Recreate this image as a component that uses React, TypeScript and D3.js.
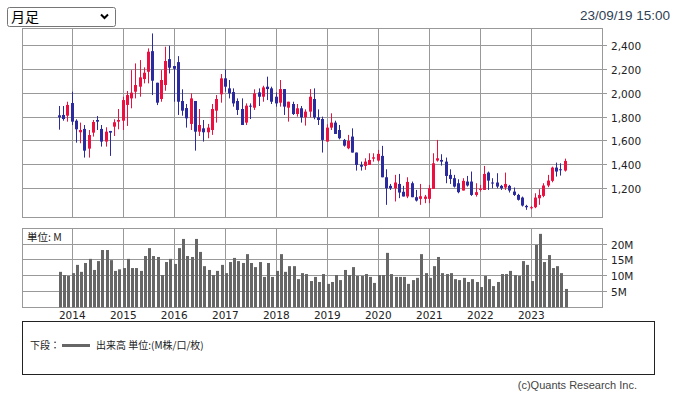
import React, { useEffect, useRef } from 'react'
import * as d3 from 'd3'

// monthly candles, first one is Oct 2013
const firstMonth = new Date(2013, 9, 1)
const candleCount = 120

const opens = [
  1814, 1817, 1811, 1917, 1769, 1672, 1700, 1535, 1669, 1775, 1700, 1594, 1683, 1719, 1761, 1769, 1901, 1956, 2012, 2054,
  2118, 2179, 2352, 2087, 1951, 2068, 2285, 2227, 2260, 1934, 1875, 1742, 1934, 1677, 1705, 1672, 1691, 1853, 1990, 2124,
  2040, 2009, 1934, 1867, 1753, 1895, 1878, 2006, 1970, 2054, 2040, 1970, 1920, 2034, 1878, 1909, 1825, 1873, 1797, 1845,
  1951, 1797, 1783, 1594, 1711, 1753, 1691, 1608, 1538, 1636, 1502, 1398, 1390, 1398, 1451, 1435, 1474, 1295, 1223, 1203,
  1239, 1173, 1134, 1245, 1128, 1114, 1114, 1114, 1198, 1435, 1440, 1426, 1315, 1287, 1245, 1184, 1259, 1259, 1147, 1189,
  1189, 1334, 1251, 1251, 1223, 1209, 1223, 1175, 1147, 1125, 1055, 1036, 1044, 1119, 1139, 1226, 1265, 1376, 1362, 1351,
]
const highs = [
  1892, 1892, 1928, 2012, 1781, 1753, 1733, 1691, 1775, 1808, 1733, 1714, 1683, 1781, 1867, 1970, 2018, 2193, 2249, 2277,
  2216, 2375, 2500, 2087, 2193, 2389, 2397, 2227, 2310, 2032, 1909, 1998, 1934, 1867, 1775, 1742, 1909, 1984, 2160, 2199,
  2110, 2040, 1956, 1956, 1914, 1914, 2032, 2040, 2062, 2138, 2054, 2006, 2110, 2034, 1928, 1928, 1909, 1892, 1864, 2034,
  2040, 1864, 1803, 1739, 1831, 1769, 1733, 1616, 1650, 1705, 1502, 1426, 1454, 1496, 1496, 1524, 1558, 1362, 1239, 1315,
  1323, 1223, 1295, 1259, 1189, 1239, 1147, 1231, 1496, 1608, 1488, 1460, 1362, 1315, 1278, 1287, 1306, 1343, 1245, 1231,
  1390, 1343, 1287, 1329, 1231, 1334, 1231, 1209, 1156, 1133, 1064, 1055, 1161, 1195, 1245, 1315, 1384, 1418, 1412, 1451,
]
const lows = [
  1694, 1769, 1761, 1733, 1585, 1580, 1460, 1460, 1636, 1691, 1552, 1552, 1474, 1641, 1697, 1691, 1725, 1873, 1956, 1970,
  2082, 2082, 1984, 1900, 1928, 2020, 2165, 1928, 1817, 1811, 1711, 1691, 1518, 1641, 1594, 1622, 1650, 1753, 1920, 2012,
  1956, 1887, 1817, 1733, 1733, 1783, 1859, 1892, 1928, 1942, 1909, 1887, 1887, 1817, 1761, 1817, 1803, 1753, 1728, 1797,
  1781, 1733, 1502, 1594, 1691, 1658, 1613, 1552, 1530, 1502, 1351, 1351, 1357, 1398, 1426, 1426, 1295, 1064, 1189, 1092,
  1120, 1134, 1120, 1128, 1092, 1064, 1078, 1078, 1198, 1426, 1393, 1245, 1239, 1209, 1161, 1184, 1217, 1139, 1133, 1175,
  1189, 1189, 1203, 1203, 1189, 1189, 1167, 1139, 1100, 1050, 1022, 1027, 1036, 1064, 1128, 1212, 1253, 1301, 1309, 1343,
]
const closes = [
  1797, 1783, 1901, 1761, 1697, 1691, 1518, 1649, 1758, 1761, 1594, 1677, 1669, 1756, 1775, 1942, 1984, 2004, 2068, 2132,
  2171, 2347, 2104, 1920, 2110, 2269, 2213, 2204, 1928, 1853, 1789, 1956, 1677, 1733, 1672, 1711, 1867, 1951, 2124, 2054,
  1998, 1914, 1859, 1733, 1895, 1887, 1998, 1970, 2048, 2034, 1928, 1914, 2034, 1887, 1928, 1825, 1873, 1797, 1845, 1970,
  1797, 1775, 1608, 1711, 1753, 1658, 1622, 1560, 1599, 1502, 1398, 1384, 1426, 1440, 1462, 1491, 1295, 1203, 1203, 1251,
  1167, 1134, 1256, 1128, 1100, 1136, 1133, 1203, 1412, 1454, 1426, 1306, 1281, 1217, 1170, 1265, 1226, 1147, 1170, 1198,
  1323, 1267, 1245, 1217, 1203, 1239, 1184, 1147, 1106, 1058, 1044, 1044, 1125, 1147, 1226, 1267, 1376, 1343, 1357, 1432,
]
// volume in millions
const volumes = [
  11.2, 10.2, 9.9, 10.8, 13.4, 11.2, 14.0, 15.3, 11.8, 14.6, 18.1, 18.1, 14.9, 11.5, 12.0, 12.4, 15.3, 12.4, 12.4, 11.5,
  16.2, 18.7, 16.2, 15.9, 10.2, 14.3, 15.3, 13.7, 18.7, 21.6, 16.2, 15.9, 21.6, 17.5, 13.0, 11.8, 10.2, 11.5, 13.4, 10.8,
  14.3, 15.6, 14.6, 14.0, 16.8, 14.0, 12.7, 14.3, 9.6, 14.0, 9.6, 11.5, 16.8, 11.2, 13.0, 13.0, 8.9, 10.8, 10.5, 8.3,
  9.6, 8.0, 10.5, 7.4, 8.0, 10.2, 8.6, 11.8, 10.2, 12.7, 9.9, 9.9, 10.5, 9.6, 7.7, 10.2, 10.2, 17.2, 10.5, 9.6,
  9.6, 9.6, 7.4, 8.6, 9.3, 16.8, 10.8, 9.3, 13.0, 15.9, 10.8, 10.5, 10.8, 8.9, 8.6, 9.3, 8.0, 8.9, 8.0, 6.4,
  9.9, 8.9, 6.7, 8.0, 10.5, 10.5, 11.5, 10.2, 9.9, 14.6, 13.4, 8.3, 19.7, 23.2, 14.3, 16.5, 12.4, 13.0, 10.8, 5.8,
]

const priceTicks = [1200, 1400, 1600, 1800, 2000, 2200, 2400]
const volumeTicks = [5, 10, 15, 20]
const yearTicks = [2014, 2015, 2016, 2017, 2018, 2019, 2020, 2021, 2022, 2023]

const UP = '#ec1040'
const DOWN = '#2b2a9e'
const GRID = '#999999'
const TICK_FONT = "'DejaVu Sans', Verdana, sans-serif"
const JP_FONT = "'Noto Sans CJK JP', 'Noto Sans', sans-serif"

const Chart = () => {
  const svgRef = useRef(null)

  useEffect(() => {
    const svg = d3.select(svgRef.current)
    svg.selectAll('*').remove()

    const left = 22
    const right = 602
    const priceTop = 28
    const priceBottom = 217
    const volTop = 228
    const volBottom = 307

    const px = (v) => Math.floor(v) + 0.5

    const x = d3
      .scaleTime()
      .domain([new Date(2014, 0, 1), new Date(2023, 0, 1)])
      .range([72.3, 531.3])
    const y = d3.scaleLinear().domain([1200, 2400]).range([188.6, 45.4])
    const yv = d3.scaleLinear().domain([0, 20]).range([307.3, 244])

    const months = d3.range(candleCount).map((i) => d3.timeMonth.offset(firstMonth, i))
    const candles = months.map((d, i) => ({
      date: d,
      open: opens[i],
      high: highs[i],
      low: lows[i],
      close: closes[i],
      volume: volumes[i],
    }))

    svg.append('rect').attr('width', 676).attr('height', 394).attr('fill', 'white')

    // month selector (drawn)
    svg
      .append('rect')
      .attr('x', 7.5)
      .attr('y', 7.5)
      .attr('width', 108)
      .attr('height', 19)
      .attr('rx', 2)
      .attr('fill', 'white')
      .attr('stroke', '#767676')
    svg
      .append('text')
      .attr('x', 11)
      .attr('y', 22)
      .attr('font-family', JP_FONT)
      .attr('font-size', 14)
      .attr('fill', '#000')
      .text('月足')
    svg
      .append('path')
      .attr('d', 'M101,14.5 L104.5,18 L108,14.5')
      .attr('fill', 'none')
      .attr('stroke', '#000')
      .attr('stroke-width', 2)

    svg
      .append('text')
      .attr('x', 670)
      .attr('y', 20)
      .attr('text-anchor', 'end')
      .attr('font-family', "'Liberation Sans', Arial, sans-serif")
      .attr('font-size', 13.5)
      .attr('fill', '#2f3f55')
      .text('23/09/19 15:00')

    // grids for both panels
    const drawPanel = (top, bottom, hLines) => {
      const g = svg.append('g')
      g.selectAll('.h')
        .data(hLines)
        .enter()
        .append('line')
        .attr('x1', left)
        .attr('x2', right + 5)
        .attr('y1', (d) => px(d))
        .attr('y2', (d) => px(d))
        .attr('stroke', GRID)
      g.selectAll('.v')
        .data(yearTicks)
        .enter()
        .append('line')
        .attr('x1', (d) => px(x(new Date(d, 0, 1))))
        .attr('x2', (d) => px(x(new Date(d, 0, 1))))
        .attr('y1', top)
        .attr('y2', bottom)
        .attr('stroke', GRID)
      g.append('rect')
        .attr('x', left + 0.5)
        .attr('y', top + 0.5)
        .attr('width', right - left)
        .attr('height', bottom - top)
        .attr('fill', 'none')
        .attr('stroke', GRID)
      return g
    }

    drawPanel(priceTop, priceBottom, priceTicks.map((d) => y(d)))
    drawPanel(volTop, volBottom, volumeTicks.map((d) => yv(d)))

    svg
      .append('g')
      .selectAll('text')
      .data(priceTicks)
      .enter()
      .append('text')
      .attr('x', 611)
      .attr('y', (d) => px(y(d)) + 4)
      .attr('font-family', TICK_FONT)
      .attr('font-size', 10.5)
      .attr('fill', '#222')
      .text((d) => d3.format(',')(d))

    svg
      .append('g')
      .selectAll('text')
      .data(volumeTicks)
      .enter()
      .append('text')
      .attr('x', 611)
      .attr('y', (d) => px(yv(d)) + 4)
      .attr('font-family', TICK_FONT)
      .attr('font-size', 10.5)
      .attr('fill', '#222')
      .text((d) => d + 'M')

    svg
      .append('g')
      .selectAll('text')
      .data(yearTicks)
      .enter()
      .append('text')
      .attr('x', (d) => x(new Date(d, 0, 1)))
      .attr('y', 319)
      .attr('text-anchor', 'middle')
      .attr('font-family', TICK_FONT)
      .attr('font-size', 10.5)
      .attr('fill', '#222')
      .text((d) => d)

    // candles
    const cg = svg.append('g')
    candles.forEach((d) => {
      const cx = Math.floor(x(d.date))
      const color = d.close >= d.open ? UP : DOWN
      cg.append('line')
        .attr('x1', cx + 0.5)
        .attr('x2', cx + 0.5)
        .attr('y1', y(d.high))
        .attr('y2', y(d.low))
        .attr('stroke', color)
      const top = y(Math.max(d.open, d.close))
      const h = Math.max(1, y(Math.min(d.open, d.close)) - top)
      cg.append('rect')
        .attr('x', cx - 1)
        .attr('y', top)
        .attr('width', 3)
        .attr('height', h)
        .attr('fill', color)
    })

    // volume bars
    svg
      .append('g')
      .selectAll('rect')
      .data(candles)
      .enter()
      .append('rect')
      .attr('x', (d) => Math.floor(x(d.date)))
      .attr('y', (d) => yv(d.volume))
      .attr('width', 3)
      .attr('height', (d) => yv(0) - yv(d.volume))
      .attr('fill', '#666')

    svg
      .append('text')
      .attr('x', 27)
      .attr('y', 241)
      .attr('font-family', JP_FONT)
      .attr('font-size', 10.5)
      .attr('fill', '#222')
      .text('単位: M')

    // legend box
    svg
      .append('rect')
      .attr('x', 22.5)
      .attr('y', 321.5)
      .attr('width', 632)
      .attr('height', 53)
      .attr('fill', 'none')
      .attr('stroke', '#222')
    svg
      .append('text')
      .attr('x', 30)
      .attr('y', 349)
      .attr('font-family', JP_FONT)
      .attr('font-size', 10)
      .attr('fill', '#222')
      .text('下段：')
    svg
      .append('line')
      .attr('x1', 62)
      .attr('x2', 90)
      .attr('y1', 345.5)
      .attr('y2', 345.5)
      .attr('stroke', '#666')
      .attr('stroke-width', 3)
    svg
      .append('text')
      .attr('x', 96)
      .attr('y', 349)
      .attr('font-family', JP_FONT)
      .attr('font-size', 10)
      .attr('fill', '#222')
      .text('出来高 単位:(M株/口/枚)')

    svg
      .append('text')
      .attr('x', 637)
      .attr('y', 389)
      .attr('text-anchor', 'end')
      .attr('font-family', "'Liberation Sans Narrow', 'Liberation Sans', sans-serif")
      .attr('font-size', 11)
      .attr('fill', '#444')
      .text('(c)Quants Research Inc.')
  }, [])

  return (
    <svg
      ref={svgRef}
      width={676}
      height={394}
      style={{ position: 'absolute', left: 0, top: 0, display: 'block' }}
    ></svg>
  )
}

export default function App() {
  return <Chart />
}
